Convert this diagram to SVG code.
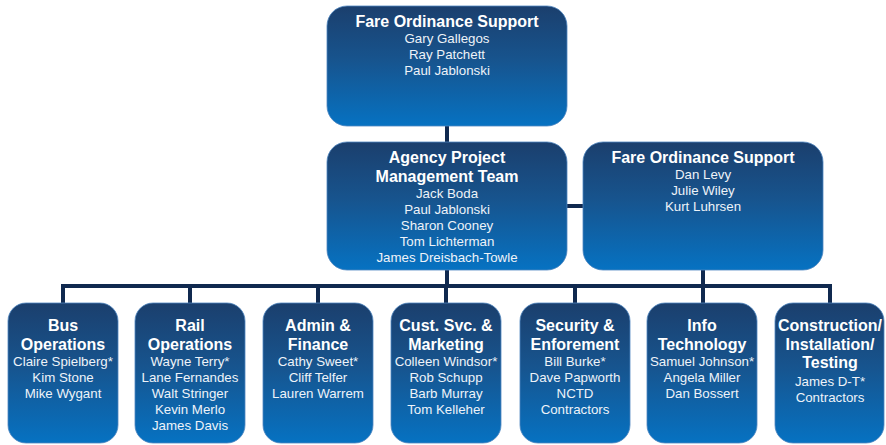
<svg xmlns="http://www.w3.org/2000/svg" width="886" height="445" viewBox="0 0 886 445">
<defs>
<linearGradient id="g" x1="0" y1="0" x2="0" y2="1">
<stop offset="0" stop-color="#1b3f6d"/>
<stop offset="0.45" stop-color="#17548e"/>
<stop offset="1" stop-color="#0672c2"/>
</linearGradient>
</defs>
<style>
.box{fill:url(#g);stroke:#4f86c0;stroke-width:0.8}
.t{font-family:"Liberation Sans",Arial,sans-serif;font-weight:bold;font-size:16px;fill:#ffffff;text-anchor:middle}
.n{font-family:"Liberation Sans",Arial,sans-serif;font-size:13.3px;fill:#eef3f9;text-anchor:middle}
.c{stroke:#10294f;stroke-width:4;fill:none}
</style>
<g id="connectors">
<line class="c" x1="447" y1="126" x2="447" y2="142"/>
<line class="c" x1="567" y1="206" x2="583" y2="206"/>
<line class="c" x1="447" y1="270" x2="447" y2="286"/>
<line class="c" x1="703" y1="270" x2="703" y2="286"/>
<line class="c" x1="61" y1="286" x2="832" y2="286"/>
<line class="c" x1="63" y1="286" x2="63" y2="303"/>
<line class="c" x1="190" y1="286" x2="190" y2="303"/>
<line class="c" x1="318" y1="286" x2="318" y2="303"/>
<line class="c" x1="446" y1="286" x2="446" y2="303"/>
<line class="c" x1="575" y1="286" x2="575" y2="303"/>
<line class="c" x1="703" y1="286" x2="703" y2="303"/>
<line class="c" x1="830" y1="286" x2="830" y2="303"/>
</g>
<g id="fare-top">
<rect class="box" x="327" y="6" width="240" height="120" rx="20"/>
<text class="t" x="447" y="27">Fare Ordinance Support</text>
<text class="n" x="447" y="43">Gary Gallegos</text>
<text class="n" x="447" y="59">Ray Patchett</text>
<text class="n" x="447" y="75">Paul Jablonski</text>
</g>
<g id="agency">
<rect class="box" x="327" y="142" width="240" height="128" rx="20"/>
<text class="t" x="447" y="163">Agency Project</text>
<text class="t" x="447" y="181.5">Management Team</text>
<text class="n" x="447" y="198">Jack Boda</text>
<text class="n" x="447" y="214">Paul Jablonski</text>
<text class="n" x="447" y="230">Sharon Cooney</text>
<text class="n" x="447" y="246">Tom Lichterman</text>
<text class="n" x="447" y="262">James Dreisbach-Towle</text>
</g>
<g id="fare-right">
<rect class="box" x="583" y="142" width="240" height="128" rx="20"/>
<text class="t" x="703" y="163">Fare Ordinance Support</text>
<text class="n" x="703" y="179">Dan Levy</text>
<text class="n" x="703" y="195">Julie Wiley</text>
<text class="n" x="703" y="211">Kurt Luhrsen</text>
</g>
<g id="bus">
<rect class="box" x="8" y="303" width="110" height="140" rx="18"/>
<text class="t" x="63" y="331">Bus</text>
<text class="t" x="63" y="349.5">Operations</text>
<text class="n" x="63" y="366">Claire Spielberg*</text>
<text class="n" x="63" y="382">Kim Stone</text>
<text class="n" x="63" y="398">Mike Wygant</text>
</g>
<g id="rail">
<rect class="box" x="135" y="303" width="110" height="140" rx="18"/>
<text class="t" x="190" y="331">Rail</text>
<text class="t" x="190" y="349.5">Operations</text>
<text class="n" x="190" y="366">Wayne Terry*</text>
<text class="n" x="190" y="382">Lane Fernandes</text>
<text class="n" x="190" y="398">Walt Stringer</text>
<text class="n" x="190" y="414">Kevin Merlo</text>
<text class="n" x="190" y="430">James Davis</text>
</g>
<g id="admin">
<rect class="box" x="263" y="303" width="110" height="140" rx="18"/>
<text class="t" x="318" y="331">Admin &amp;</text>
<text class="t" x="318" y="349.5">Finance</text>
<text class="n" x="318" y="366">Cathy Sweet*</text>
<text class="n" x="318" y="382">Cliff Telfer</text>
<text class="n" x="318" y="398">Lauren Warrem</text>
</g>
<g id="custsvc">
<rect class="box" x="391" y="303" width="110" height="140" rx="18"/>
<text class="t" x="446" y="331">Cust. Svc. &amp;</text>
<text class="t" x="446" y="349.5">Marketing</text>
<text class="n" x="446" y="366">Colleen Windsor*</text>
<text class="n" x="446" y="382">Rob Schupp</text>
<text class="n" x="446" y="398">Barb Murray</text>
<text class="n" x="446" y="414">Tom Kelleher</text>
</g>
<g id="security">
<rect class="box" x="520" y="303" width="110" height="140" rx="18"/>
<text class="t" x="575" y="331">Security &amp;</text>
<text class="t" x="575" y="349.5">Enforement</text>
<text class="n" x="575" y="366">Bill Burke*</text>
<text class="n" x="575" y="382">Dave Papworth</text>
<text class="n" x="575" y="398">NCTD</text>
<text class="n" x="575" y="414">Contractors</text>
</g>
<g id="info">
<rect class="box" x="647" y="303" width="110" height="140" rx="18"/>
<text class="t" x="702" y="331">Info</text>
<text class="t" x="702" y="349.5">Technology</text>
<text class="n" x="702" y="366">Samuel Johnson*</text>
<text class="n" x="702" y="382">Angela Miller</text>
<text class="n" x="702" y="398">Dan Bossert</text>
</g>
<g id="construction">
<rect class="box" x="775" y="303" width="109" height="140" rx="18"/>
<text class="t" x="830" y="331">Construction/</text>
<text class="t" x="830" y="349.5">Installation/</text>
<text class="t" x="830" y="368">Testing</text>
<text class="n" x="830" y="386">James D-T*</text>
<text class="n" x="830" y="402">Contractors</text>
</g>
</svg>
